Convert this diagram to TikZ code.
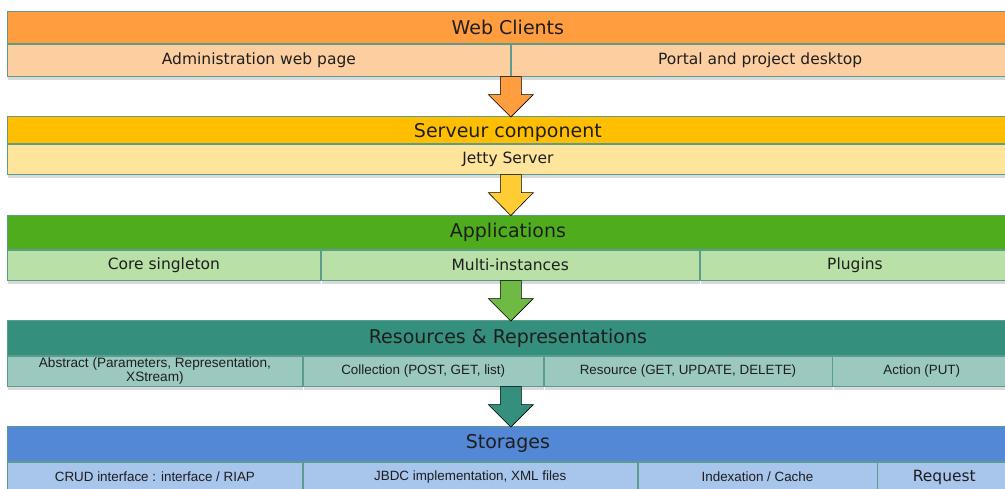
\documentclass[tikz,border=0pt]{standalone}
\usepackage{xcolor}
\usepackage{fontspec}
\setmainfont{DejaVu Sans}
\newfontfamily\arialfont{Liberation Sans}
\usepackage{tikz}
\usetikzlibrary{positioning,calc,shadows}
\definecolor{ink}{HTML}{1E1E1E}
\definecolor{edge}{HTML}{5B9C8C}
\definecolor{webhead}{HTML}{FF9D3F}
\definecolor{webcell}{HTML}{FDCFA0}
\definecolor{srvhead}{HTML}{FFBF00}
\definecolor{srvcell}{HTML}{FFE59C}
\definecolor{srvarrow}{HTML}{FFCC33}
\definecolor{apphead}{HTML}{4FAD1D}
\definecolor{appcell}{HTML}{B9E0A6}
\definecolor{apparrow}{HTML}{6FBA44}
\definecolor{reshead}{HTML}{358F7D}
\definecolor{rescell}{HTML}{9BC9C0}
\definecolor{stohead}{HTML}{5388D7}
\definecolor{stocell}{HTML}{A8C5EC}

\begin{document}
\begin{tikzpicture}[x=1pt, y=1pt,
  every node/.style={text=ink},
  band/.style={rectangle, draw=edge, line width=0.8pt, minimum width=1001pt, anchor=north west, inner sep=0pt, font=\fontsize{19}{21}\selectfont},
  cell/.style={rectangle, draw=edge, line width=0.8pt, inner sep=0pt, align=center, font=\fontsize{15.5}{17}\selectfont, drop shadow={shadow xshift=1pt, shadow yshift=-4pt, opacity=0.3}},
  arialtxt/.style={font=\arialfont\fontsize{13.4}{14}\selectfont},
  pipe/.style={draw=black, line width=0.6pt, line join=miter}
]
\clip (0,0) rectangle (1005,-488);

% web clients
\node[band, fill=webhead, minimum height=32pt] (web) at (7,-11) {Web Clients};
\node[cell, fill=webcell, minimum width=503pt, minimum height=32pt, anchor=north west] (admin) at (web.south west) {Administration web page};
\node[cell, fill=webcell, minimum width=498pt, minimum height=32pt, right=0pt of admin] (portal) {Portal and project desktop};

% server
\node[band, fill=srvhead, minimum height=27pt] (srv) at (7,-116) {\raisebox{-3pt}[14pt][4pt]{Serveur component}};
\node[cell, fill=srvcell, minimum width=1001pt, minimum height=30pt, anchor=north west] (jetty) at (srv.south west) {Jetty Server};

% applications
\node[band, fill=apphead, minimum height=34pt] (apps) at (7,-215) {Applications};
\node[cell, fill=appcell, minimum width=313pt, minimum height=30pt, anchor=north west] (core) at (apps.south west) {Core singleton};
\node[cell, fill=appcell, minimum width=378pt, minimum height=30pt, right=0pt of core] (multi) {Multi-instances};
\node[cell, fill=appcell, minimum width=310pt, minimum height=30pt, right=0pt of multi] (plugins) {Plugins};

% resources
\node[band, fill=reshead, minimum height=35pt] (res) at (7,-320) {Resources \& Representations};
\node[cell, arialtxt, fill=rescell, minimum width=295pt, minimum height=30pt, anchor=north west] (abstract) at (res.south west) {\raisebox{2pt}{\parbox{290pt}{\centering\fontsize{13.6}{14}\selectfont Abstract (Parameters, Representation,\\XStream)}}};
\node[cell, arialtxt, fill=rescell, minimum width=240pt, minimum height=30pt, right=0pt of abstract] (collect) {Collection (POST, GET, list)};
\node[cell, arialtxt, fill=rescell, minimum width=288pt, minimum height=30pt, right=0pt of collect] (resource) {Resource (GET, UPDATE, DELETE)};
\node[cell, arialtxt, fill=rescell, minimum width=178pt, minimum height=30pt, right=0pt of resource] (action) {Action (PUT)};

% storages
\node[band, fill=stohead, minimum height=35pt] (sto) at (7,-426) {Storages};
\node[cell, arialtxt, fill=stocell, minimum width=295pt, minimum height=30pt, anchor=north west] (crud) at (sto.south west) {CRUD interface : interface / RIAP};
\node[cell, arialtxt, fill=stocell, minimum width=334pt, minimum height=30pt, right=0pt of crud] (jdbc) {JBDC implementation, XML files};
\node[cell, arialtxt, fill=stocell, minimum width=239pt, minimum height=30pt, right=0pt of jdbc] (index) {Indexation / Cache};
\node[cell, fill=stocell, minimum width=133pt, minimum height=30pt, right=0pt of index] (request) {Request};

% arrows between layers
\draw[pipe, fill=webhead] ($(admin.south east)+(-10.5,0)$) -- ++(0,-18) -- ++(-12,0) -- ++(22.5,-22.5) -- ++(22.5,22.5) -- ++(-12,0) -- ++(0,18) -- cycle;
\draw[pipe, fill=srvarrow] ($(admin.south east |- jetty.south)+(-10.5,0)$) -- ++(0,-18) -- ++(-12,0) -- ++(22.5,-23) -- ++(22.5,23) -- ++(-12,0) -- ++(0,18) -- cycle;
\draw[pipe, fill=apparrow] ($(admin.south east |- core.south)+(-10.5,0)$) -- ++(0,-18) -- ++(-12,0) -- ++(22.5,-22.5) -- ++(22.5,22.5) -- ++(-12,0) -- ++(0,18) -- cycle;
\draw[pipe, fill=reshead] ($(admin.south east |- abstract.south)+(-10.5,0)$) -- ++(0,-18) -- ++(-12,0) -- ++(22.5,-22.5) -- ++(22.5,22.5) -- ++(-12,0) -- ++(0,18) -- cycle;
\end{tikzpicture}
\end{document}
